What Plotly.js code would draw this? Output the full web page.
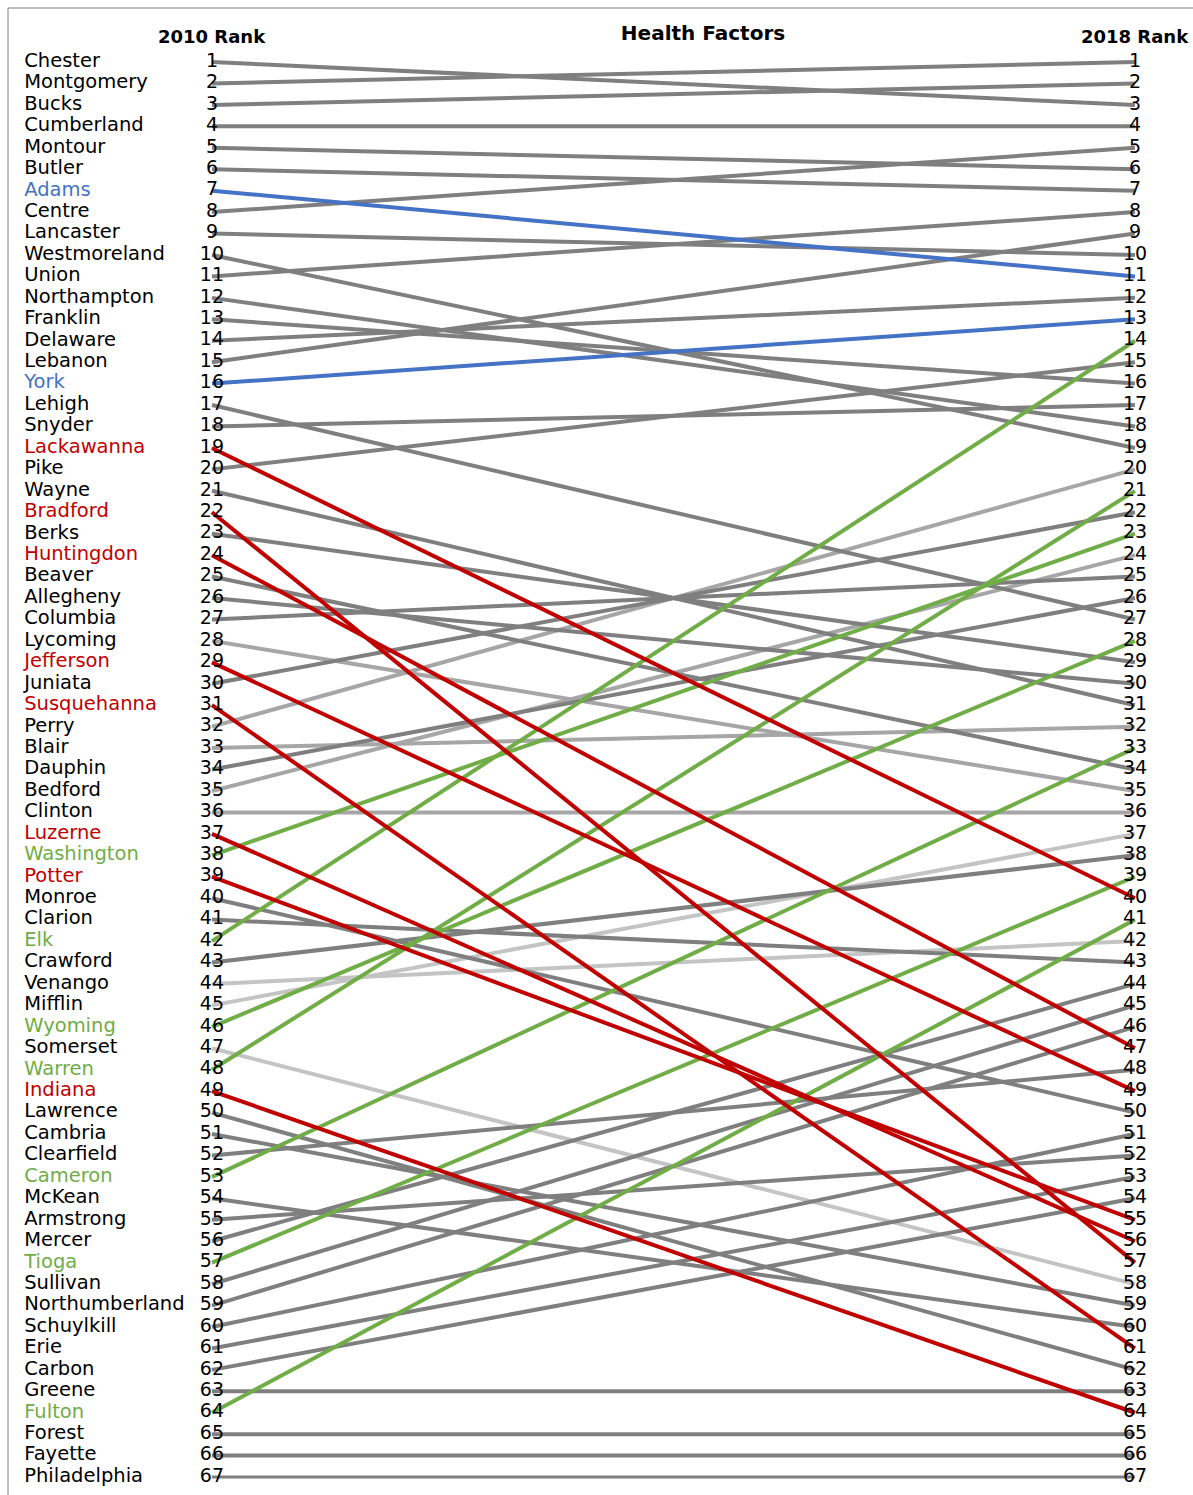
<!DOCTYPE html>
<html>
<head>
<meta charset="utf-8">
<script src="https://cdn.plot.ly/plotly-3.0.1.min.js"></script>
<style>html,body{margin:0;padding:0;background:#fff;}#chart{width:1193px;height:1495px;}</style>
</head>
<body>
<div id="chart"></div>
<script>
// ---- DATA ----
const counties = ["Chester","Montgomery","Bucks","Cumberland","Montour","Butler","Adams","Centre","Lancaster","Westmoreland",
  "Union","Northampton","Franklin","Delaware","Lebanon","York","Lehigh","Snyder","Lackawanna","Pike",
  "Wayne","Bradford","Berks","Huntingdon","Beaver","Allegheny","Columbia","Lycoming","Jefferson","Juniata",
  "Susquehanna","Perry","Blair","Dauphin","Bedford","Clinton","Luzerne","Washington","Potter","Monroe",
  "Clarion","Elk","Crawford","Venango","Mifflin","Wyoming","Somerset","Warren","Indiana","Lawrence",
  "Cambria","Clearfield","Cameron","McKean","Armstrong","Mercer","Tioga","Sullivan","Northumberland","Schuylkill",
  "Erie","Carbon","Greene","Fulton","Forest","Fayette","Philadelphia"];
const rank2010 = [1,2,3,4,5,6,7,8,9,10,11,12,13,14,15,16,17,18,19,20,21,22,23,24,25,26,27,28,29,30,31,32,33,34,
  35,36,37,38,39,40,41,42,43,44,45,46,47,48,49,50,51,52,53,54,55,56,57,58,59,60,61,62,63,64,65,66,67];
const rank2018 = [3,1,2,4,6,7,11,5,10,19,
  8,18,16,12,9,13,27,17,40,15,
  31,57,29,47,34,30,25,35,49,22,
  61,20,32,26,24,36,56,23,55,50,
  43,14,38,42,37,28,58,21,64,62,
  59,48,33,60,52,44,39,45,46,51,
  53,54,63,41,65,66,67];
// group of each county: g = gray, l = light gray, x = lighter gray, r = red, n = green, b = blue
const groups = ["g","g","g","g","g","g","b","g","g","g",
  "g","g","g","g","g","b","g","g","r","g",
  "g","r","g","r","g","g","g","l","r","g",
  "r","l","l","g","l","l","r","n","r","g",
  "g","n","g","x","x","n","x","n","r","g",
  "g","g","n","g","g","g","n","g","g","g",
  "g","g","g","n","g","g","g"];
const years = [2010, 2018];
const headers = ["2010 Rank", "2018 Rank"];
const chartTitle = "Health Factors";

// ---- STYLE ----
const lineColor = {g:"#7f7f7f", l:"#a6a6a6", x:"#c4c4c4", r:"#c00000", n:"#70ad47", b:"#4472c4"};
const labelColor = {g:"#000000", l:"#000000", x:"#000000", r:"#c00000", n:"#70ad47", b:"#4472c4"};
const order = ["x","l","g","b","n","r"];
const FONT = "DejaVu Sans, Verdana, sans-serif";

const traces = [];
order.forEach(grp => {
  counties.forEach((c, i) => {
    if (groups[i] !== grp) return;
    traces.push({
      type: "scatter", mode: "lines",
      x: [years[0], years[1]], y: [rank2010[i], rank2018[i]],
      line: {color: lineColor[grp], width: (c === "Philadelphia") ? 3 : 4},
      hoverinfo: "skip", showlegend: false
    });
  });
});
// rank numbers
traces.push({
  type: "scatter", mode: "text",
  x: rank2010.map(() => years[0]), y: rank2010, text: rank2010.map(String),
  textposition: "middle center", textfont: {family: FONT, size: 19, color: "#000"},
  hoverinfo: "skip", showlegend: false, cliponaxis: false
});
traces.push({
  type: "scatter", mode: "text",
  x: rank2018.map(() => years[1]), y: rank2018, text: rank2018.map(String),
  textposition: "middle center", textfont: {family: FONT, size: 19, color: "#000"},
  hoverinfo: "skip", showlegend: false, cliponaxis: false
});
// county names
traces.push({
  type: "scatter", mode: "text",
  x: rank2010.map(() => 2008.373), y: rank2010, text: counties,
  textposition: "middle right",
  textfont: {family: FONT, size: 19.5, color: groups.map(g => labelColor[g])},
  hoverinfo: "skip", showlegend: false, cliponaxis: false
});

const layout = {
  width: 1193, height: 1495,
  margin: {l: 0, r: 0, t: 0, b: 0},
  paper_bgcolor: "#fff", plot_bgcolor: "#fff",
  showlegend: false,
  title: {text: "<b>" + chartTitle + "</b>", x: 703/1193, xanchor: "center", y: 1 - 33/1495, yanchor: "middle",
    font: {family: FONT, size: 20, color: "#000"}},
  xaxis: {range: [2008.163, 2018.503], visible: false, fixedrange: true},
  yaxis: {range: [67.837, -1.893], visible: false, fixedrange: true},
  annotations: years.map((yr, k) => ({
    x: yr, y: -0.2, xref: "x", yref: "y", text: "<b>" + headers[k] + "</b>", showarrow: false,
    xanchor: "center", yanchor: "middle", font: {family: FONT, size: 18, color: "#000"}
  })),
  shapes: [{type: "rect", xref: "paper", yref: "paper", x0: 8/1193, x1: 1.002, y0: -0.002, y1: 1 - 8/1495,
    line: {color: "#7f7f7f", width: 1}, fillcolor: "rgba(0,0,0,0)", layer: "above"}]
};

Plotly.newPlot("chart", traces, layout, {displayModeBar: false, staticPlot: true});
</script>
</body>
</html>
